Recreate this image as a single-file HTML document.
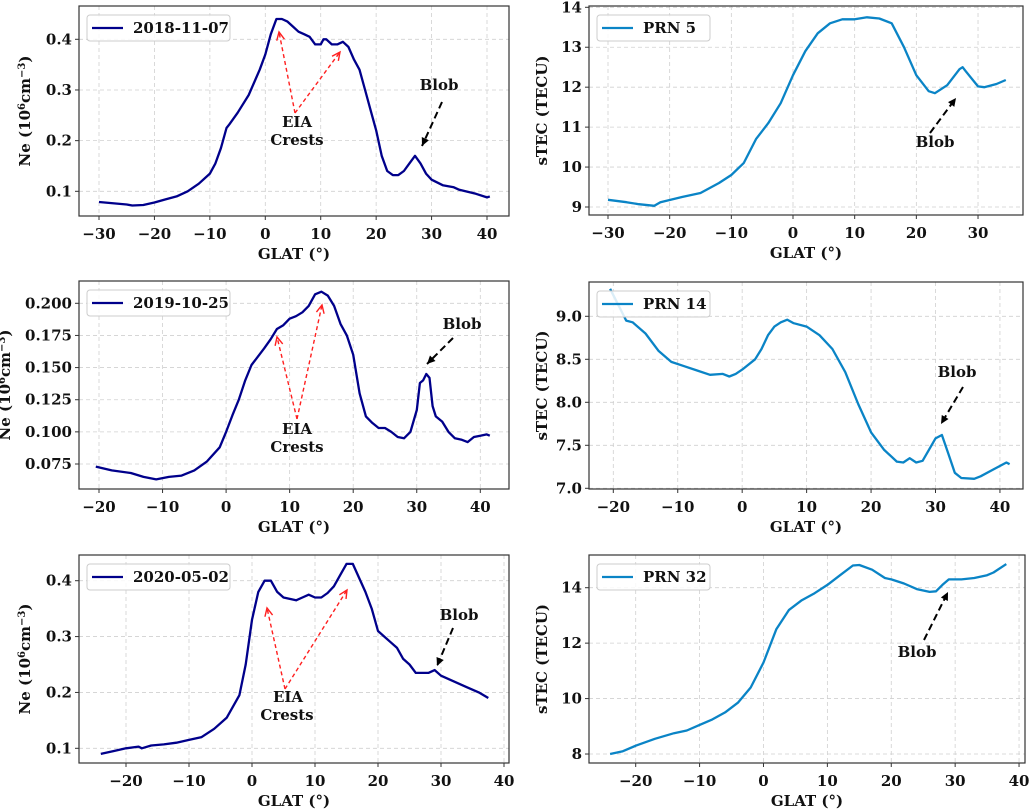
<!DOCTYPE html>
<html><head><meta charset="utf-8">
<style>
html,body{margin:0;padding:0;background:#fff;}
svg{display:block;font-family:"DejaVu Serif","Liberation Serif",serif;font-weight:bold;}
</style></head>
<body>
<svg id="fig" width="1031" height="811" viewBox="0 0 1031 811" xmlns="http://www.w3.org/2000/svg"></svg>
<script>
// ---- data ----
const p1Lat=[-30,-28,-25,-24,-22,-20,-18,-16,-14,-12,-10,-9,-8,-7,-6.5,-5,-3,-1,0,1,2,3,4,5,6,7,8,9,10,10.5,11,12,13,14,15,16,17,18,19,20,21,22,23,24,25,26,27,28,29,30,32,34,35,38,40,40.5];
const p1Ne=[0.079,0.077,0.074,0.072,0.073,0.078,0.084,0.090,0.100,0.115,0.135,0.155,0.185,0.225,0.232,0.255,0.29,0.34,0.37,0.41,0.44,0.44,0.435,0.425,0.415,0.41,0.405,0.39,0.39,0.40,0.40,0.39,0.39,0.395,0.385,0.36,0.34,0.30,0.26,0.22,0.17,0.14,0.132,0.132,0.14,0.155,0.17,0.155,0.135,0.123,0.112,0.108,0.103,0.095,0.088,0.09];
const p2Lat=[-30,-27,-25,-22.5,-21.5,-18,-15,-12,-10,-8,-6,-4,-2,0,2,4,6,8,10,12,14,16,18,20,22,23,25,27,27.5,28,30,31,33,34.5];
const p2Tec=[9.18,9.12,9.07,9.03,9.12,9.25,9.35,9.6,9.8,10.1,10.7,11.1,11.6,12.3,12.9,13.35,13.6,13.7,13.7,13.75,13.72,13.6,13.0,12.3,11.9,11.85,12.05,12.45,12.5,12.4,12.02,12.0,12.08,12.18];
const p3Lat=[-20.5,-18,-15,-13,-11,-9,-7,-5,-3,-1,0,1,2,3,4,6,7,8,9,10,11,12,13,14,15,16,17,18,19,20,21,22,23,24,25,26,27,28,29,30,30.5,31,31.5,32,32.5,33,34,35,36,37,38,39,40,41,41.5];
const p3Ne=[0.073,0.070,0.068,0.065,0.063,0.065,0.066,0.070,0.077,0.088,0.100,0.113,0.125,0.14,0.152,0.165,0.172,0.180,0.183,0.188,0.190,0.193,0.198,0.207,0.209,0.206,0.198,0.184,0.175,0.160,0.13,0.112,0.107,0.103,0.103,0.100,0.096,0.095,0.100,0.117,0.138,0.14,0.145,0.142,0.12,0.112,0.108,0.100,0.095,0.094,0.092,0.096,0.097,0.098,0.097];
const p4Lat=[-20.5,-19,-18,-17,-15,-13,-11,-9,-7,-5,-3,-2,-1,0,2,3,4,5,6,7,8,10,12,14,16,18,20,22,24,25,26,27,28,29,30,31,32,33,34,36,37,39,41,41.5];
const p4Tec=[9.32,9.1,8.95,8.93,8.8,8.6,8.47,8.42,8.37,8.32,8.33,8.3,8.33,8.38,8.5,8.62,8.78,8.88,8.93,8.96,8.92,8.88,8.78,8.62,8.35,7.98,7.65,7.45,7.31,7.3,7.35,7.3,7.32,7.45,7.58,7.62,7.4,7.18,7.12,7.11,7.14,7.22,7.3,7.28];
const p5Lat=[-24,-22,-20,-18,-17.5,-16,-14,-12,-10,-8,-6,-4,-2,-1,0,1,2,3,4,5,7,8,9,10,11,12,13,14,15,16,17,18,19,20,21,22,23,24,25,26,27,28,29,30,32,34,36,37.5];
const p5Ne=[0.09,0.095,0.10,0.103,0.10,0.105,0.107,0.11,0.115,0.12,0.135,0.155,0.195,0.25,0.33,0.38,0.40,0.40,0.38,0.37,0.365,0.37,0.375,0.37,0.37,0.378,0.39,0.41,0.43,0.43,0.405,0.38,0.35,0.31,0.30,0.29,0.28,0.26,0.25,0.235,0.235,0.235,0.24,0.23,0.22,0.21,0.2,0.19];
const p6Lat=[-24,-22,-20,-17,-14,-12,-10,-8,-6,-4,-2,0,2,4,6,8,10,12,14,15,17,19,20,22,24,26,27,28,29,31,33,35,36,38];
const p6Tec=[8.0,8.1,8.3,8.55,8.75,8.85,9.05,9.25,9.5,9.85,10.4,11.3,12.5,13.2,13.55,13.8,14.1,14.45,14.8,14.82,14.65,14.35,14.3,14.15,13.95,13.85,13.87,14.1,14.3,14.3,14.35,14.45,14.55,14.85];
const p1XTicks=[-30,-20,-10,0,10,20,30,40];
const p1YTicks=[0.1,0.2,0.3,0.4];
const p2XTicks=[-30,-20,-10,0,10,20,30];
const p2YTicks=[9,10,11,12,13,14];
const p3XTicks=[-20,-10,0,10,20,30,40];
const p3YTicks=[0.075,0.100,0.125,0.150,0.175,0.200];
const p4XTicks=[-20,-10,0,10,20,30,40];
const p4YTicks=[7.0,7.5,8.0,8.5,9.0];
const p5XTicks=[-20,-10,0,10,20,30,40];
const p5YTicks=[0.1,0.2,0.3,0.4];
const p6XTicks=[-20,-10,0,10,20,30,40];
const p6YTicks=[8,10,12,14];

const NS="http://www.w3.org/2000/svg";
const fig=document.getElementById('fig');
const FS=15;
function mk(tag,attrs,parent){const e=document.createElementNS(NS,tag);for(const k in attrs)e.setAttribute(k,attrs[k]);(parent||fig).appendChild(e);return e;}
function fmtTick(v,dec){return (v<0?'\u2212':'')+Math.abs(v).toFixed(dec);}

function panel(id,g,xs,ys,xt,yt,ydec,color,legend,ylab,isNe){
  const grp=mk('g',{});
  
  
  const X=v=>g.x0+(v-g.xv0)*g.xk;
  const Y=v=>g.y0+(g.yv0-v)*g.yk;
  xt.forEach(t=>{const l=mk('line',{x1:X(t),x2:X(t),y1:g.top,y2:g.bot,stroke:'#d0d0d0','stroke-width':0.8,'stroke-dasharray':'4,3'},grp);
    });
  yt.forEach(t=>{const l=mk('line',{x1:g.left,x2:g.right,y1:Y(t),y2:Y(t),stroke:'#d0d0d0','stroke-width':0.8,'stroke-dasharray':'4,3'},grp);
    });
  const cid='clip-'+id;
  const cp=mk('clipPath',{id:cid},grp);mk('rect',{x:g.left,y:g.top,width:g.right-g.left,height:g.bot-g.top},cp);
  const pts=xs.map((x,i)=>X(x).toFixed(1)+','+Y(ys[i]).toFixed(1)).join(' ');
  const pl=mk('polyline',{points:pts,fill:'none',stroke:color,'stroke-width':2.3,'stroke-linejoin':'round','clip-path':'url(#'+cid+')'},grp);
  
  const fr=mk('rect',{x:g.left,y:g.top,width:g.right-g.left,height:g.bot-g.top,fill:'none',stroke:'#333','stroke-width':1.2},grp);
  
  xt.forEach(t=>{mk('line',{x1:X(t),x2:X(t),y1:g.bot,y2:g.bot+4,stroke:'#333','stroke-width':1},grp);
    const tx=mk('text',{x:X(t),y:g.bot+23,'text-anchor':'middle','font-size':FS,fill:'#111'},grp);tx.textContent=fmtTick(t,0);
    });
  yt.forEach(t=>{mk('line',{x1:g.left-4,x2:g.left,y1:Y(t),y2:Y(t),stroke:'#333','stroke-width':1},grp);
    const tx=mk('text',{x:g.left-7,y:Y(t)+5,'text-anchor':'end','font-size':FS,fill:'#111'},grp);tx.textContent=fmtTick(t,ydec);
    });
  const xl=mk('text',{x:(g.left+g.right)/2,y:g.bot+43,'text-anchor':'middle','font-size':FS,fill:'#111'},grp);
  xl.textContent='GLAT (\u00b0)';
  
  const cy=(g.top+g.bot)/2;
  const yl=mk('text',{x:g.ylx,y:cy,'text-anchor':'middle','font-size':FS,fill:'#111',transform:'rotate(-90 '+g.ylx+' '+cy+')'},grp);
  if(isNe){yl.innerHTML='Ne (10<tspan font-size="10" dy="-5">6</tspan><tspan dy="5">cm</tspan><tspan font-size="10" dy="-5">\u22123</tspan><tspan dy="5">)</tspan>';}
  else yl.textContent=ylab;
  
  const lg=mk('g',{},grp);
  
  const lw=isNe?143:113;
  mk('rect',{x:g.left+8,y:g.top+9,width:lw,height:26,rx:3,fill:'#fff','fill-opacity':0.85,stroke:'#ccc','stroke-width':1},lg);
  mk('line',{x1:g.left+13,x2:g.left+44,y1:g.top+22,y2:g.top+22,stroke:color,'stroke-width':2.3},lg);
  const lt=mk('text',{x:g.left+54,y:g.top+27,'font-size':FS,fill:'#111'},lg);lt.textContent=legend;
  return grp;
}

function arrow(x1,y1,x2,y2,color,name,w){
  const g=mk('g',{});
  
  mk('line',{x1:x1,y1:y1,x2:x2,y2:y2,stroke:color,'stroke-width':w,'stroke-dasharray':w>1.6?'7,4':'4,3'},g);
  const a=Math.atan2(y2-y1,x2-x1),L=9,s=0.45;
  const p=[[x2-L*Math.cos(a-s),y2-L*Math.sin(a-s)],[x2,y2],[x2-L*Math.cos(a+s),y2-L*Math.sin(a+s)]];
  if(color==='#000') mk('polygon',{points:p.map(q=>q.join(',')).join(' '),fill:'#000'},g);
  else mk('polyline',{points:p.map(q=>q.join(',')).join(' '),fill:'none',stroke:color,'stroke-width':1.4},g);
}
function label(x,y,t,name){const e=mk('text',{x:x,y:y+5,'text-anchor':'middle','font-size':FS,fill:'#111'});e.textContent=t;
  }

panel('panel-ne-2018',{left:79,right:509,top:6,bot:216,x0:99,xv0:-30,xk:5.543,y0:39.3,yv0:0.4,yk:506.7,ylx:30},p1Lat,p1Ne,p1XTicks,p1YTicks,1,'#00008b','2018-11-07','',true);
panel('panel-tec-prn5',{left:589,right:1023,top:6,bot:215,x0:608,xv0:-30,xk:6.167,y0:7.3,yv0:14,yk:39.94,ylx:547},p2Lat,p2Tec,p2XTicks,p2YTicks,0,'#0a84c6','PRN 5','sTEC (TECU)',false);
panel('panel-ne-2019',{left:79,right:509,top:281,bot:489,x0:99,xv0:-20,xk:6.355,y0:303.3,yv0:0.2,yk:1285.6,ylx:10},p3Lat,p3Ne,p3XTicks,p3YTicks,3,'#00008b','2019-10-25','',true);
panel('panel-tec-prn14',{left:589,right:1023,top:282,bot:489,x0:613.3,xv0:-20,xk:6.444,y0:316.3,yv0:9.0,yk:86,ylx:547},p4Lat,p4Tec,p4XTicks,p4YTicks,1,'#0a84c6','PRN 14','sTEC (TECU)',false);
panel('panel-ne-2020',{left:79,right:509,top:555,bot:763,x0:126,xv0:-20,xk:6.3,y0:580.7,yv0:0.4,yk:558.7,ylx:30},p5Lat,p5Ne,p5XTicks,p5YTicks,1,'#00008b','2020-05-02','',true);
panel('panel-tec-prn32',{left:589,right:1025,top:555,bot:763,x0:635.7,xv0:-20,xk:6.389,y0:587.7,yv0:14,yk:27.72,ylx:547},p6Lat,p6Tec,p6XTicks,p6YTicks,0,'#0a84c6','PRN 32','sTEC (TECU)',false);

arrow(295,113,279,32,'#ff2020','eia-arrow-left',1.4);arrow(295,113,340,52,'#ff2020','eia-arrow-right',1.4);
label(297,122,'EIA','eia-label');label(297,140,'Crests','crests-label');
label(439,85,'Blob','blob-label');arrow(442,102,422,146,'#000','blob-arrow',2);
label(935,142,'Blob','blob-label');arrow(930,133,956,98,'#000','blob-arrow',2);
arrow(297,419,277,337,'#ff2020','eia-arrow-left',1.4);arrow(297,419,322,305,'#ff2020','eia-arrow-right',1.4);
label(297,429,'EIA','eia-label');label(297,447,'Crests','crests-label');
label(462,324,'Blob','blob-label');arrow(453,338,427,364,'#000','blob-arrow',2);
label(957,372,'Blob','blob-label');arrow(963,387,941,424,'#000','blob-arrow',2);
arrow(285,689,267,608,'#ff2020','eia-arrow-left',1.4);arrow(285,689,347,590,'#ff2020','eia-arrow-right',1.4);
label(288,697,'EIA','eia-label');label(287,715,'Crests','crests-label');
label(459,615,'Blob','blob-label');arrow(453,628,437,666,'#000','blob-arrow',2);
label(917,652,'Blob','blob-label');arrow(924,640,948,592,'#000','blob-arrow',2);
</script>
</body></html>
